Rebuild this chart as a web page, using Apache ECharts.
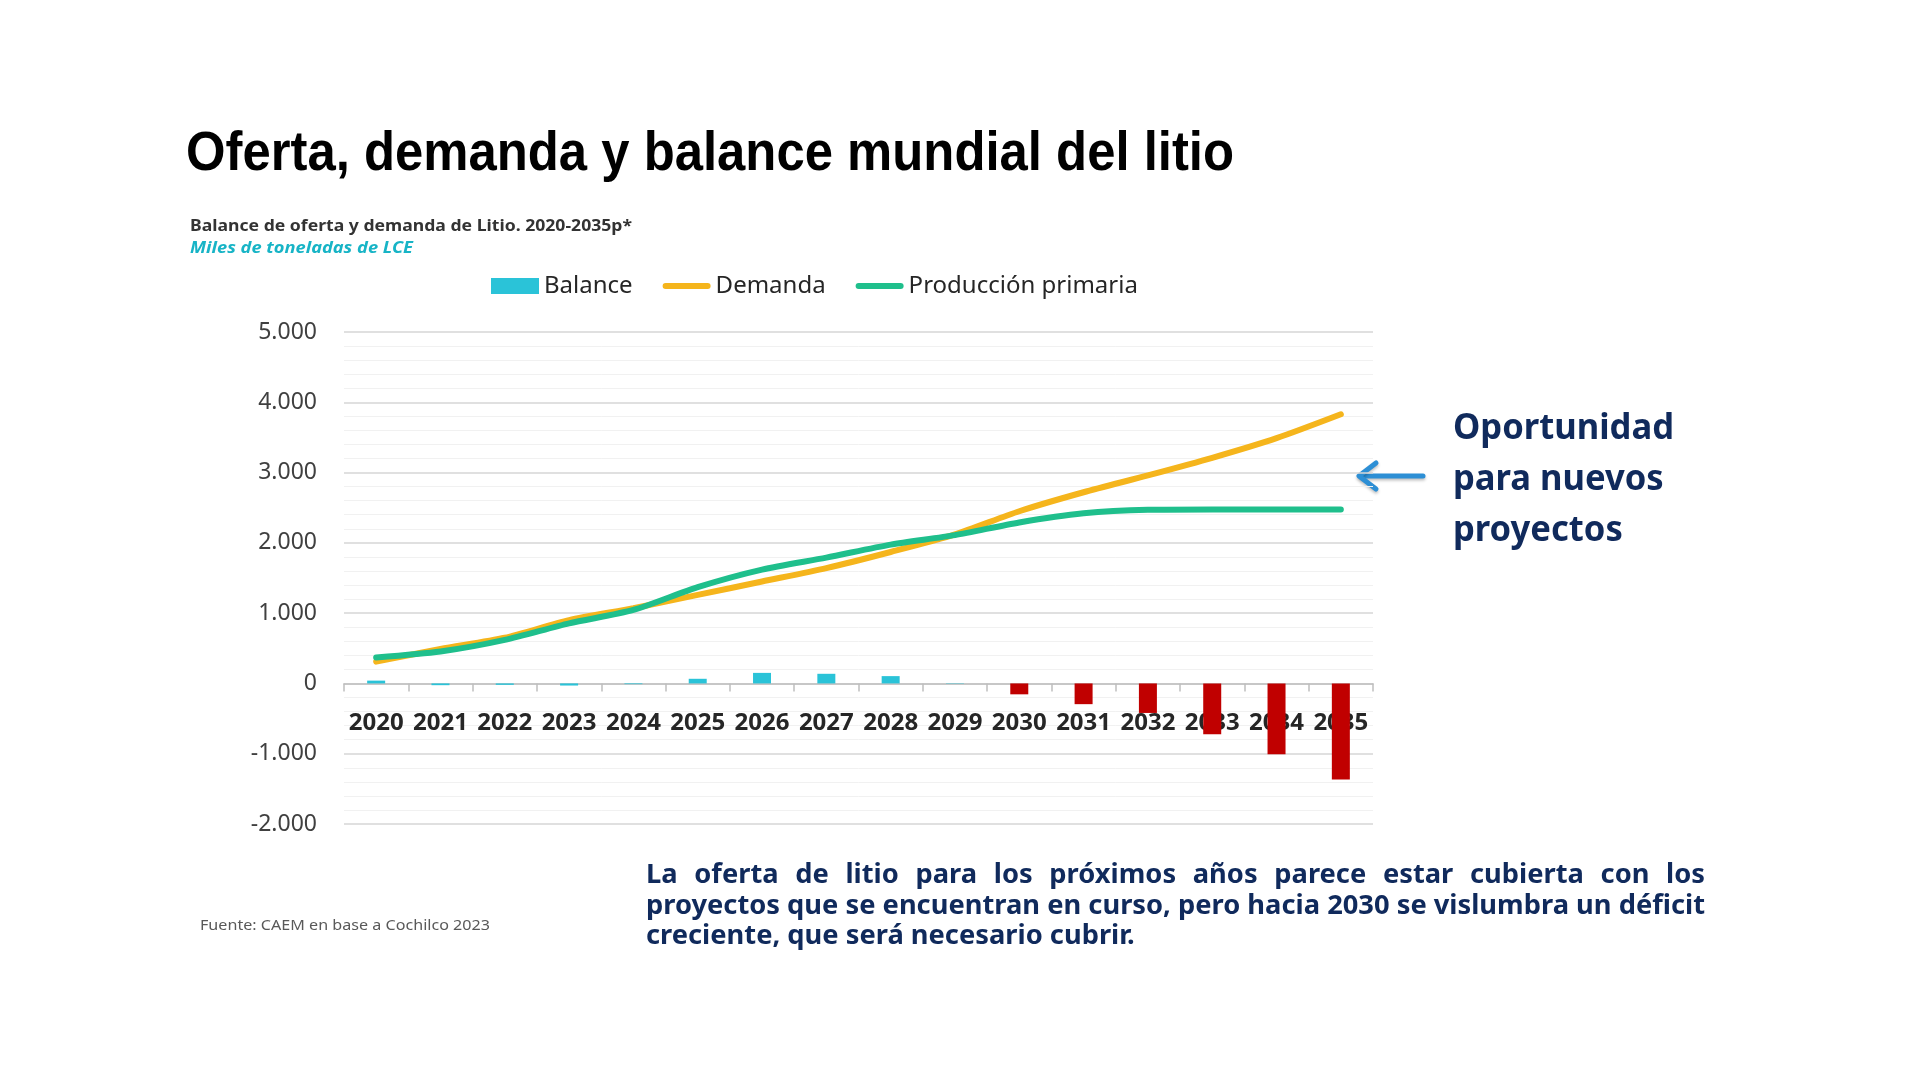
<!DOCTYPE html>
<html>
<head>
<meta charset="utf-8">
<script src="https://cdn.jsdelivr.net/npm/echarts@6/dist/echarts.min.js"></script>
<style>
html,body{margin:0;padding:0;background:#fff;}
#chart{width:1920px;height:1084px;}
</style>
</head>
<body>
<div id="chart"></div>
<script>
// ---- Data (thousand tonnes LCE) ----
const years = ['2020','2021','2022','2023','2024','2025','2026','2027','2028','2029','2030','2031','2032','2033','2034','2035'];
const demanda = [310, 490, 650, 900, 1070, 1260, 1450, 1640, 1870, 2120, 2450, 2720, 2960, 3210, 3490, 3830];
const produccion = [370, 455, 620, 855, 1045, 1370, 1620, 1790, 1975, 2110, 2290, 2420, 2470, 2475, 2475, 2475];
const balance = [40, -25, -20, -30, -10, 66, 150, 137, 104, -5, -155, -295, -420, -722, -1007, -1368];
const yTicks = [-2000, -1000, 0, 1000, 2000, 3000, 4000, 5000];

const titleText = 'Oferta, demanda y balance mundial del litio';
const subText = 'Balance de oferta y demanda de Litio. 2020-2035p*';
const unitText = 'Miles de toneladas de LCE';
const noteLines = ['Oportunidad', 'para nuevos', 'proyectos'];
const sourceText = 'Fuente: CAEM en base a Cochilco 2023';
const paraLines = [
  'La oferta de litio para los próximos años parece estar cubierta con los',
  'proyectos que se encuentran en curso, pero hacia 2030 se vislumbra un déficit',
  'creciente, que será necesario cubrir.'
];

// ---- Helpers ----
const FF = 'Noto Sans';
const ctx = document.createElement('canvas').getContext('2d');
function measure(text, size, weight, style, family) {
  ctx.font = (style || 'normal') + ' ' + (weight || 'normal') + ' ' + size + 'px "' + (family || FF) + '"';
  return ctx.measureText(text).width;
}
function fmt(v) {
  if (v === 0) return '0';
  const s = String(Math.abs(v)).replace(/\B(?=(\d{3})+(?!\d))/g, '.');
  return (v < 0 ? '-' : '') + s;
}
function textEl(text, x, y, size, weight, color, targetW, fontStyle, family) {
  const w = measure(text, size, weight, fontStyle, family);
  const s = targetW ? targetW / w : 1;
  return {
    type: 'text', x: x, y: y, scaleX: s, z: 10,
    style: { text: text, x: 0, y: 0, fontFamily: family || FF, fontSize: size, fontWeight: weight || 'normal',
      fontStyle: fontStyle || 'normal', fill: color, textVerticalAlign: 'middle', textAlign: 'left' }
  };
}

const graphics = [];
graphics.push(textEl(titleText, 186, 155, 55, 'bold', '#000000', 1048, 'normal', 'Liberation Sans'));
graphics.push(textEl(subText, 190, 226, 16, 'bold', '#333333', 442));
graphics.push(textEl(unitText, 190, 248, 16, 'bold', '#17b4c6', 223, 'italic'));
graphics.push(textEl(sourceText, 200, 926, 15, 'normal', '#595959', 290));

// right annotation
const noteY = [429, 480, 531];
const noteScale = 221 / measure(noteLines[0], 36, 'bold');
noteLines.forEach((t, i) => {
  graphics.push({
    type: 'text', x: 1453, y: noteY[i], scaleX: noteScale, z: 10,
    style: { text: t, x: 0, y: 0, fontFamily: FF, fontSize: 36, fontWeight: 'bold', fill: '#102a5c', textVerticalAlign: 'middle' }
  });
});

// arrow
graphics.push({
  type: 'group', z: 10,
  children: [
    { type: 'line', shape: { x1: 1423, y1: 476, x2: 1362, y2: 476 },
      style: { stroke: '#2d8fd5', lineWidth: 5, lineCap: 'round', shadowBlur: 3, shadowColor: 'rgba(0,0,0,0.25)', shadowOffsetY: 2 } },
    { type: 'polyline', shape: { points: [[1376, 463], [1359, 476], [1376, 489]] },
      style: { stroke: '#2d8fd5', lineWidth: 5, lineCap: 'round', lineJoin: 'round', fill: null, shadowBlur: 3, shadowColor: 'rgba(0,0,0,0.25)', shadowOffsetY: 2 } }
  ]
});

// justified paragraph
const pSize = 26, pX0 = 646, pX1 = 1705, pY = [876, 907, 937];
const pScale = (pX1 - pX0) / measure(paraLines[1], pSize, 'bold');
paraLines.forEach((line, li) => {
  const words = line.split(' ');
  const widths = words.map(w => measure(w, pSize, 'bold') * pScale);
  const total = widths.reduce((a, b) => a + b, 0);
  const justify = li < 2;
  const gap = justify ? (pX1 - pX0 - total) / (words.length - 1) : measure(' ', pSize, 'bold') * pScale;
  let x = pX0;
  words.forEach((w, i) => {
    graphics.push({
      type: 'text', x: x, y: pY[li], scaleX: pScale, z: 10,
      style: { text: w, x: 0, y: 0, fontFamily: FF, fontSize: pSize, fontWeight: 'bold', fill: '#102a5c', textVerticalAlign: 'middle' }
    });
    x += widths[i] + gap;
  });
});

const lineIcon = 'path://M3,0 H45 A3,3 0 0 1 45,6 H3 A3,3 0 0 1 3,0 Z';

const chart = echarts.init(document.getElementById('chart'), null, { renderer: 'canvas' });
chart.setOption({
  backgroundColor: '#ffffff',
  animation: false,
  grid: { left: 344, right: 547, top: 332, bottom: 260, containLabel: false },
  legend: {
    left: 486, top: 269, itemGap: 30, itemWidth: 48, itemHeight: 16,
    textStyle: { fontFamily: FF, fontSize: 24, color: '#262626' },
    data: [
      { name: 'Balance', icon: 'rect' },
      { name: 'Demanda', icon: lineIcon },
      { name: 'Producción primaria', icon: lineIcon }
    ]
  },
  xAxis: {
    type: 'category', data: years, boundaryGap: true,
    axisLine: { onZero: true, lineStyle: { color: '#bfbfbf', width: 1.5 } },
    axisTick: { show: true, length: 8, lineStyle: { color: '#bfbfbf', width: 1.5 } },
    axisLabel: { interval: 0, margin: -113, fontFamily: FF, fontSize: 24, fontWeight: 'bold', color: '#262626' }
  },
  yAxis: {
    type: 'value', min: -2000, max: 5000, interval: 1000,
    axisLine: { show: false }, axisTick: { show: false },
    axisLabel: { margin: 27, fontFamily: FF, fontSize: 23, color: '#404040', formatter: fmt },
    splitLine: { lineStyle: { color: '#d6d6d6', width: 1.5 } },
    minorTick: { show: false, splitNumber: 5 },
    minorSplitLine: { show: true, lineStyle: { color: '#f1f1f1', width: 1 } }
  },
  series: [
    {
      name: 'Balance', type: 'bar', barWidth: 18, z: 2,
      itemStyle: { color: '#2ac3d8' },
      data: balance.map(v => ({ value: v, itemStyle: { color: v < -50 ? '#c00000' : '#2ac3d8' } }))
    },
    {
      name: 'Demanda', type: 'line', data: demanda, smooth: 0.25, symbol: 'none', z: 3,
      itemStyle: { color: '#f5b51c' },
      lineStyle: { color: '#f5b51c', width: 6, cap: 'round' }
    },
    {
      name: 'Producción primaria', type: 'line', data: produccion, smooth: 0.25, symbol: 'none', z: 4,
      itemStyle: { color: '#1fbf8c' },
      lineStyle: { color: '#1fbf8c', width: 6, cap: 'round' }
    }
  ],
  graphic: graphics
});
</script>
</body>
</html>
